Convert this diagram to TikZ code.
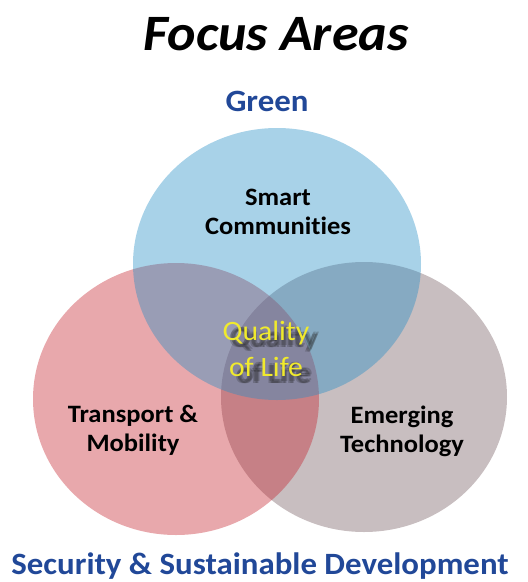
\documentclass[tikz,border=0pt]{standalone}
\usepackage{fontspec}
\setmainfont{Carlito}[FakeStretch=1.06, Ligatures=NoCommon]

\definecolor{circblue}{RGB}{37,142,197}
\definecolor{circred}{RGB}{197,37,47}
\definecolor{circgray}{RGB}{200,190,192}
\definecolor{headblue}{RGB}{33,72,152}
\definecolor{qolyellow}{RGB}{240,234,45}

\begin{document}
\begin{tikzpicture}[x=1pt, y=-1pt,
    area/.style={font=\bfseries\fontsize{25}{29}\selectfont, align=center, text=black, inner sep=0pt},
    heading/.style={font=\bfseries\fontsize{31}{36}\selectfont, text=headblue, inner sep=0pt, anchor=base},
    qol/.style={font=\fontsize{28}{36}\selectfont, align=center, inner sep=0pt}]
    \useasboundingbox (0,0) rectangle (528,582);

    % the three circles
    \fill[circgray] (364,397) ellipse [x radius=143, y radius=135];
    \fill[circred, fill opacity=0.4] (176,399) ellipse [x radius=143, y radius=136];
    \fill[circblue, fill opacity=0.4] (277,264) ellipse [x radius=144, y radius=136];

    \node[font=\bfseries\itshape\fontsize{51}{56}\selectfont, inner sep=0pt, anchor=base] (title) at (276,50) {Focus Areas};
    \node[heading] (green) at (267,111) {Green};
    \node[heading] (security) at (260,574) {Security \& Sustainable Development};

    \node[area] (smart) at (278,212) {Smart\\Communities};
    \node[area] (transport) at (133,430) {Transport \&\\Mobility};
    \node[area] (emerging) at (402,431) {Emerging\\Technology};

    % blurred shadow behind the centre text
    \foreach \dx/\dy [count=\i] in {7/5, 9/7, 8/7, 10/5, 6/7}
        \node[qol, text=black!85, opacity=0.24] (qolshadow\i) at (266+\dx,349+\dy) {Quality\\of Life};
    \node[qol, text=qolyellow] (quality) at (266,349) {Quality\\of Life};
\end{tikzpicture}
\end{document}
